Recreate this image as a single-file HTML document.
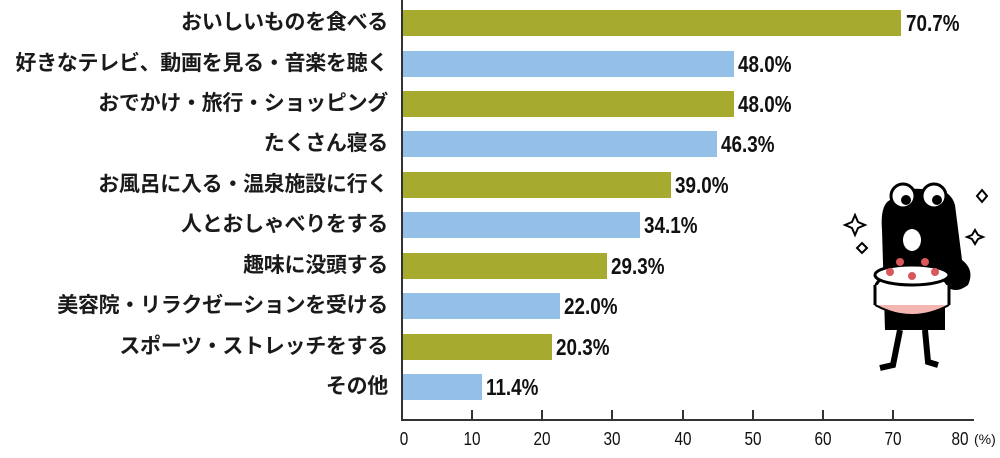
<!DOCTYPE html>
<html><head><meta charset="utf-8"><style>
body{margin:0;background:#fff;width:1000px;height:458px;overflow:hidden;position:relative;font-family:"Liberation Sans","Noto Sans CJK JP",sans-serif;}
.l{position:absolute;right:612px;font-size:21px;font-weight:bold;color:#1a1a1a;white-space:nowrap;line-height:26px;letter-spacing:-0.3px;}
.b{position:absolute;left:403px;height:26px;}
.v{position:absolute;font-size:23px;font-weight:bold;color:#111;line-height:26px;transform:scaleX(0.82);transform-origin:left center;}
.t{position:absolute;top:429px;font-size:18px;color:#111;transform:translateX(-50%) scaleX(0.85);}
</style></head><body>
<div style="position:absolute;left:401px;top:0;width:2px;height:421px;background:#333"></div>
<div style="position:absolute;left:401px;top:419px;width:573px;height:2px;background:#333"></div>

<div class="l" style="top:10px">おいしいものを食べる</div>
<div class="b" style="top:10px;width:498px;background:#a6aa2e"></div><div class="v" style="top:10px;left:906px">70.7%</div>
<div class="l" style="top:51px">好きなテレビ、動画を見る・音楽を聴く</div>
<div class="b" style="top:51px;width:331px;background:#94bfe6"></div><div class="v" style="top:51px;left:738px">48.0%</div>
<div class="l" style="top:91px">おでかけ・旅行・ショッピング</div>
<div class="b" style="top:91px;width:331px;background:#a6aa2e"></div><div class="v" style="top:91px;left:738px">48.0%</div>
<div class="l" style="top:131px">たくさん寝る</div>
<div class="b" style="top:131px;width:314px;background:#94bfe6"></div><div class="v" style="top:131px;left:721px">46.3%</div>
<div class="l" style="top:172px">お風呂に入る・温泉施設に行く</div>
<div class="b" style="top:172px;width:268px;background:#a6aa2e"></div><div class="v" style="top:172px;left:675px">39.0%</div>
<div class="l" style="top:212px">人とおしゃべりをする</div>
<div class="b" style="top:212px;width:237px;background:#94bfe6"></div><div class="v" style="top:212px;left:644px">34.1%</div>
<div class="l" style="top:253px">趣味に没頭する</div>
<div class="b" style="top:253px;width:204px;background:#a6aa2e"></div><div class="v" style="top:253px;left:611px">29.3%</div>
<div class="l" style="top:293px">美容院・リラクゼーションを受ける</div>
<div class="b" style="top:293px;width:157px;background:#94bfe6"></div><div class="v" style="top:293px;left:564px">22.0%</div>
<div class="l" style="top:334px">スポーツ・ストレッチをする</div>
<div class="b" style="top:334px;width:149px;background:#a6aa2e"></div><div class="v" style="top:334px;left:556px">20.3%</div>
<div class="l" style="top:374px">その他</div>
<div class="b" style="top:374px;width:79px;background:#94bfe6"></div><div class="v" style="top:374px;left:486px">11.4%</div>

<svg style="position:absolute;left:0;top:0" width="1000" height="458">
<g stroke="#333" stroke-width="2">
<line x1="472" y1="410" x2="472" y2="420"/><line x1="542" y1="410" x2="542" y2="420"/><line x1="612" y1="410" x2="612" y2="420"/><line x1="683" y1="410" x2="683" y2="420"/><line x1="753" y1="410" x2="753" y2="420"/><line x1="823" y1="410" x2="823" y2="420"/><line x1="893" y1="410" x2="893" y2="420"/>
</g>
<g>
<path d="M890 200 Q900 185 930 190 Q950 188 955 205 L962 260 Q975 270 968 285 Q955 295 945 285 L945 330 L885 330 L882 230 Q880 205 890 200Z" fill="#000"/>
<circle cx="903" cy="196" r="12" fill="#fff" stroke="#000" stroke-width="3"/>
<circle cx="934" cy="196" r="12" fill="#fff" stroke="#000" stroke-width="3"/>
<circle cx="906" cy="200" r="5" fill="#000"/><circle cx="937" cy="200" r="5" fill="#000"/>
<ellipse cx="912" cy="240" rx="9" ry="11" fill="#fff"/>
<ellipse cx="912" cy="290" rx="37" ry="20" fill="#fff" stroke="#000" stroke-width="3"/>
<rect x="875" y="285" width="74" height="22" fill="#fff"/>
<line x1="875" y1="285" x2="875" y2="305" stroke="#000" stroke-width="3"/><line x1="949" y1="285" x2="949" y2="305" stroke="#000" stroke-width="3"/>
<path d="M875 305 Q912 325 949 305" fill="#f4b6b0" stroke="#000" stroke-width="2"/>
<ellipse cx="912" cy="275" rx="37" ry="10" fill="#fff" stroke="#000" stroke-width="3"/>
<circle cx="900" cy="262" r="4" fill="#d9575a"/><circle cx="925" cy="262" r="4" fill="#d9575a"/>
<circle cx="890" cy="272" r="4" fill="#d9575a"/><circle cx="912" cy="276" r="4" fill="#d9575a"/><circle cx="935" cy="272" r="4" fill="#d9575a"/>
<path d="M900 330 L893 365 L880 368 M925 330 L928 362 L938 365" stroke="#000" stroke-width="6" fill="none"/>
<g fill="#fff" stroke="#000" stroke-width="2">
<path d="M855 215 L858 222 L865 225 L858 228 L855 235 L852 228 L845 225 L852 222Z"/>
<path d="M862 243 L867 248 L862 253 L857 248Z"/>
<path d="M982 190 L987 196 L982 202 L977 196Z"/>
<path d="M975 230 L978 235 L983 237 L978 239 L975 244 L972 239 L967 237 L972 235Z"/>
</g>
</g>
</svg>

<div class="t" style="left:404px">0</div><div class="t" style="left:472px">10</div><div class="t" style="left:542px">20</div><div class="t" style="left:612px">30</div><div class="t" style="left:683px">40</div><div class="t" style="left:753px">50</div><div class="t" style="left:823px">60</div><div class="t" style="left:893px">70</div><div class="t" style="left:960px">80</div>
<div style="position:absolute;left:974px;top:431px;font-size:14px;color:#111">(%)</div>
</body></html>
